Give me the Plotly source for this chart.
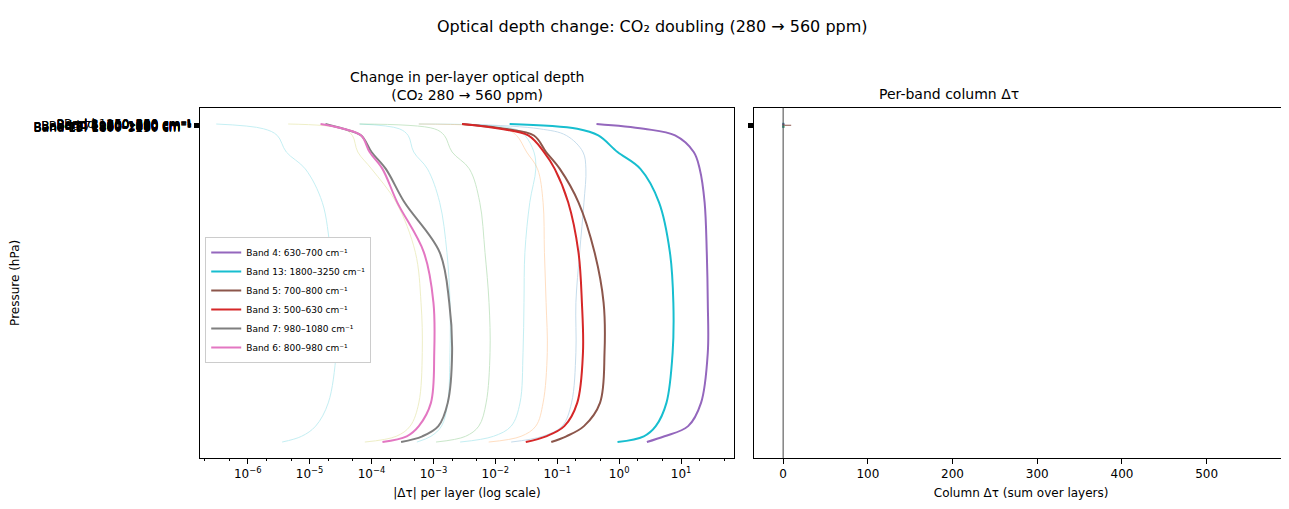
import plotly.graph_objects as go

# pressure levels (hPa), top of atmosphere -> surface
pressure = [1, 16, 37, 89, 142, 247, 404, 562, 719, 877, 950, 982, 1000]

band_names = {
    1: "Band 1: 10–250 cm⁻¹",
    2: "Band 2: 250–500 cm⁻¹",
    3: "Band 3: 500–630 cm⁻¹",
    4: "Band 4: 630–700 cm⁻¹",
    5: "Band 5: 700–800 cm⁻¹",
    6: "Band 6: 800–980 cm⁻¹",
    7: "Band 7: 980–1080 cm⁻¹",
    8: "Band 8: 1080–1180 cm⁻¹",
    9: "Band 9: 1180–1390 cm⁻¹",
    10: "Band 10: 1390–1480 cm⁻¹",
    11: "Band 11: 1480–1800 cm⁻¹",
    12: "Band 12: 1800–2080 cm⁻¹",
    13: "Band 13: 1800–3250 cm⁻¹",
}

# |dtau| per layer for each band
dtau = {
    4: [0.43, 2.5, 8.0, 16, 20, 24, 26, 27, 27, 21, 13, 5.4, 2.8],
    13: [0.017, 0.21, 0.46, 0.94, 2.2, 4.4, 6.6, 7.5, 7.3, 5.8, 3.9, 2.5, 0.94],
    5: [0.0029, 0.014, 0.042, 0.066, 0.11, 0.22, 0.40, 0.56, 0.58, 0.49, 0.27, 0.14, 0.080],
    3: [0.0029, 0.012, 0.034, 0.061, 0.091, 0.15, 0.22, 0.25, 0.26, 0.21, 0.13, 0.066, 0.031],
    7: [1.8e-5, 3.5e-5, 6.8e-5, 1e-4, 1.7e-4, 3.4e-4, 1.26e-3, 1.8e-3, 2.0e-3, 1.7e-3, 1.2e-3, 6.6e-4, 3.0e-4],
    6: [1.5e-5, 3.5e-5, 6.8e-5, 9.3e-5, 1.5e-4, 2.6e-4, 7e-4, 1.0e-3, 1.03e-3, 9.1e-4, 5.8e-4, 3.7e-4, 1.5e-4],
    1: [3.1e-7, 1.8e-6, 3.0e-6, 4.2e-6, 8.5e-6, 1.6e-5, 2.2e-5, 2.9e-5, 2.7e-5, 2.0e-5, 1.25e-5, 7.4e-6, 3.6e-6],
    8: [4.5e-6, 3.5e-5, 4.9e-5, 6e-5, 1e-4, 2.5e-4, 5.1e-4, 6.3e-4, 6.6e-4, 5.8e-4, 4.2e-4, 2.5e-4, 7.8e-5],
    9: [6.4e-5, 2.8e-4, 3.9e-4, 4.8e-4, 8e-4, 1.26e-3, 1.65e-3, 1.85e-3, 1.85e-3, 1.7e-3, 1.35e-3, 9.1e-4, 5.4e-4],
    10: [6.4e-5, 1.03e-3, 1.5e-3, 2.0e-3, 3.8e-3, 5.6e-3, 6.8e-3, 7.9e-3, 8.2e-3, 7.1e-3, 5.4e-3, 3.3e-3, 1.1e-3],
    11: [5.8e-4, 0.020, 0.030, 0.042, 0.045, 0.036, 0.030, 0.029, 0.028, 0.025, 0.018, 9.3e-3, 2.7e-3],
    12: [5.8e-4, 0.014, 0.022, 0.032, 0.048, 0.059, 0.062, 0.066, 0.069, 0.059, 0.045, 0.026, 7.8e-3],
    2: [0.0029, 0.051, 0.14, 0.26, 0.29, 0.27, 0.23, 0.20, 0.20, 0.17, 0.12, 0.058, 0.018],
}

highlight = [4, 13, 5, 3, 7, 6]
band_colors = {
    1: "#17becf", 2: "#1f77b4", 3: "#d62728", 4: "#9467bd", 5: "#8c564b",
    6: "#e377c2", 7: "#7f7f7f", 8: "#bcbd22", 9: "#17becf", 10: "#2ca02c",
    11: "#17becf", 12: "#ff7f0e", 13: "#17becf",
}

# column dtau per band (bars drawn at y = band index - 1)
bar_bands = [1, 2, 3, 4, 5, 6, 7, 8, 9, 10, 11, 12, 13]
column_dtau = [0.3, 0.5, 1.0, 0.8, 9.5, 0.2, 0.2, 0.3, 0.2, 0.6, 0.4, 0.5, 0.7]

fig = go.Figure()

for b in [1, 8, 9, 10, 11, 12, 2]:
    fig.add_trace(go.Scatter(x=dtau[b], y=pressure, mode="lines", showlegend=False,
                             line=dict(color=band_colors[b], width=1, shape="spline"), opacity=0.25,
                             xaxis="x", yaxis="y"))
for b in highlight:
    fig.add_trace(go.Scatter(x=dtau[b], y=pressure, mode="lines", name=band_names[b],
                             line=dict(color=band_colors[b], width=2, shape="spline"),
                             xaxis="x", yaxis="y"))

fig.add_trace(go.Bar(x=column_dtau, y=[b - 1 for b in bar_bands], orientation="h",
                     marker=dict(color=[band_colors[b] for b in bar_bands], line_width=0),
                     width=0.8, showlegend=False, xaxis="x2", yaxis="y2"))

axis_common = dict(showline=True, linecolor="black", linewidth=1, mirror=True,
                   ticks="outside", tickcolor="black", showgrid=False, zeroline=False,
                   automargin=False, tickfont=dict(size=12, color="black"))

fig.update_layout(
    width=1289, height=509,
    margin=dict(l=0, r=0, t=0, b=0, autoexpand=False),
    paper_bgcolor="white", plot_bgcolor="white",
    font=dict(family="DejaVu Sans", color="black"),
    xaxis=dict(axis_common, type="log", domain=[0.149, 0.563], range=[-6.77, 1.85],
               tickvals=[1e-6, 1e-5, 1e-4, 1e-3, 1e-2, 1e-1, 1, 10],
               ticktext=["10<sup>−6</sup>", "10<sup>−5</sup>", "10<sup>−4</sup>", "10<sup>−3</sup>",
                         "10<sup>−2</sup>", "10<sup>−1</sup>", "10<sup>0</sup>", "10<sup>1</sup>"],
               minor=dict(ticks="outside", ticklen=2, tickcolor="black", showgrid=False),
               title=dict(text="|Δτ| per layer (log scale)", font=dict(size=12), standoff=8)),
    yaxis=dict(axis_common, domain=[0.116, 0.804], range=[1050, -50],
               tickvals=[b - 1 for b in bar_bands], ticktext=[band_names[b] for b in bar_bands],
               tickfont=dict(size=12, color="black"),
               title=dict(text="Pressure (hPa)", font=dict(size=12), standoff=20)),
    xaxis2=dict(axis_common, domain=[0.579, 0.993], range=[-34, 596],
                tickvals=[0, 100, 200, 300, 400, 500],
                title=dict(text="Column Δτ (sum over layers)", font=dict(size=12), standoff=8)),
    yaxis2=dict(axis_common, domain=[0.116, 0.804], range=[1050, -50], anchor="x2",
                tickvals=[b - 1 for b in bar_bands], showticklabels=False),
    legend=dict(x=0.153, y=0.55, xanchor="left", yanchor="top", bgcolor="white",
                bordercolor="#cccccc", borderwidth=1, font=dict(size=9),
                tracegroupgap=0, itemwidth=30),
    shapes=[dict(type="line", xref="x2", yref="y2 domain", x0=0, x1=0, y0=0, y1=1,
                 line=dict(color="#444444", width=1))],
    annotations=[
        dict(text="Optical depth change: CO₂ doubling (280 → 560 ppm)", x=0.5, y=1 - 18 / 509,
             xref="paper", yref="paper", yanchor="middle", showarrow=False, font=dict(size=16)),
        dict(text="Change in per-layer optical depth<br>(CO₂ 280 → 560 ppm)", x=0.356, y=1 - 78 / 509,
             xref="paper", yref="paper", yanchor="middle", showarrow=False, font=dict(size=14)),
        dict(text="Per-band column Δτ", x=0.786, y=1 - 86 / 509,
             xref="paper", yref="paper", yanchor="middle", showarrow=False, font=dict(size=14)),
    ],
)

fig.write_html("out.html")
